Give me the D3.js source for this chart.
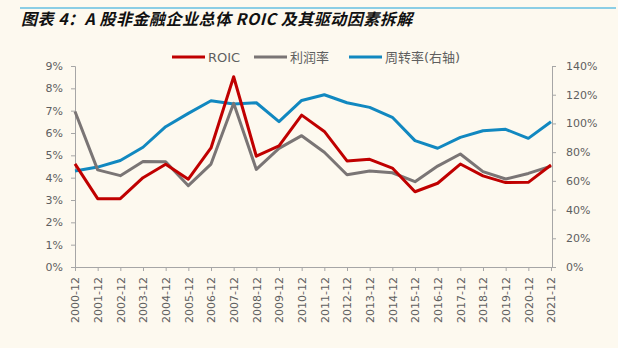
<!DOCTYPE html>
<html>
<head>
<meta charset="utf-8">
<script src="https://d3js.org/d3.v7.min.js"></script>
<style>
  html, body { margin: 0; padding: 0; background: #fdf9ef; }
  svg { display: block; }
  .tick text { fill: #5f5f5f; font-family: "DejaVu Sans", "Noto Sans CJK SC", sans-serif; font-size: 11px; }
  .tick line, .domain { stroke: #a6a6a6; }
</style>
</head>
<body>
<div id="chart"></div>
<script>
// 数据
const periods = ["2000-12","2001-12","2002-12","2003-12","2004-12","2005-12","2006-12","2007-12","2008-12","2009-12","2010-12",
  "2011-12","2012-12","2013-12","2014-12","2015-12","2016-12","2017-12","2018-12","2019-12","2020-12","2021-12"];
const roic = [4.62, 3.06, 3.06, 4.0, 4.6, 3.93, 5.33, 8.52, 4.96, 5.42, 6.8,
  6.07, 4.75, 4.82, 4.43, 3.37, 3.75, 4.61, 4.08, 3.78, 3.79, 4.57];
const margin_ = [6.96, 4.35, 4.09, 4.72, 4.71, 3.64, 4.61, 7.33, 4.37, 5.31, 5.88,
  5.14, 4.13, 4.3, 4.22, 3.82, 4.52, 5.06, 4.27, 3.94, 4.19, 4.52];
const turnover = [66.9, 69.6, 74.2, 83.4, 97.7, 107, 115.8, 113.5, 114.4, 101.2, 116,
  120, 114.4, 111.2, 104.3, 88, 82.7, 90.3, 94.9, 95.9, 89.6, 101.2];
const leftTicks = [0,1,2,3,4,5,6,7,8,9];
const rightTicks = [0,20,40,60,80,100,120,140];

const width = 618, height = 348;
const plot = { left: 75, right: 551, top: 66, bottom: 267 };

const svg = d3.select("#chart").append("svg")
  .attr("width", width).attr("height", height);

svg.append("rect").attr("width", width).attr("height", height).attr("fill", "#fdf9ef");

// 标题
svg.append("line")
  .attr("x1", 20).attr("x2", 616).attr("y1", 8).attr("y2", 8)
  .attr("stroke", "#1aa3dc").attr("stroke-width", 1.2);
svg.append("text")
  .attr("x", 21).attr("y", 25)
  .attr("font-family", "'Noto Sans CJK SC', sans-serif")
  .attr("font-size", 16).attr("font-weight", "bold").attr("font-style", "italic")
  .attr("letter-spacing", 0.5)
  .attr("fill", "#111")
  .text("图表 4：A 股非金融企业总体 ROIC 及其驱动因素拆解");

// 比例尺
const x = d3.scalePoint().domain(periods).range([plot.left, plot.right]);
const yL = d3.scaleLinear().domain([0, 9]).range([plot.bottom, plot.top]);
const yR = d3.scaleLinear().domain([0, 140]).range([plot.bottom, plot.top]);

// 坐标轴
svg.append("g").attr("transform", `translate(${plot.left},0)`)
  .call(d3.axisLeft(yL).tickValues(leftTicks).tickSize(4).tickPadding(8).tickFormat(d => d + "%"));
svg.append("g").attr("transform", `translate(${plot.right + 1},0)`)
  .call(d3.axisRight(yR).tickValues(rightTicks).tickSize(4).tickPadding(10).tickFormat(d => d + "%"));
const xg = svg.append("g").attr("transform", `translate(0,${plot.bottom})`)
  .call(d3.axisBottom(x).tickSize(4).tickSizeOuter(0));
xg.selectAll("text")
  .attr("transform", "rotate(-90)")
  .attr("text-anchor", "end")
  .attr("x", -10).attr("y", 0).attr("dy", "0.35em");
svg.selectAll(".domain").attr("stroke", "#a6a6a6");

// 折线
const series = [
  { name: "ROIC", values: roic, y: yL, color: "#c00000" },
  { name: "利润率", values: margin_, y: yL, color: "#7a7575" },
  { name: "周转率(右轴)", values: turnover, y: yR, color: "#1188c0" }
];
const order = [series[2], series[1], series[0]];
order.forEach(s => {
  const line = d3.line().x((d, i) => x(periods[i])).y(d => s.y(d));
  svg.append("path").datum(s.values)
    .attr("d", line).attr("fill", "none")
    .attr("stroke", s.color).attr("stroke-width", 3)
    .attr("stroke-linejoin", "round");
});

// 图例
const legendX = [172, 254, 349];
series.forEach((s, i) => {
  const g = svg.append("g").attr("transform", `translate(${legendX[i]},57)`);
  g.append("line").attr("x1", 0).attr("x2", 33).attr("stroke", s.color).attr("stroke-width", 3);
  g.append("text").attr("x", 36).attr("dy", "0.35em")
    .attr("font-family", "'DejaVu Sans', 'Noto Sans CJK SC', sans-serif")
    .attr("font-size", 13).attr("fill", "#5f5f5f").text(s.name);
});
</script>
</body>
</html>
